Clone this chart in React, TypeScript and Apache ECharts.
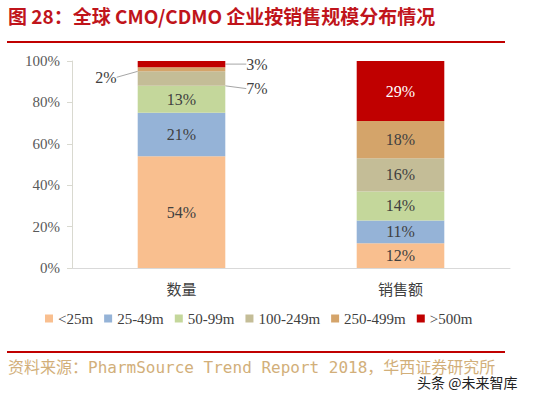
import React, { useEffect, useRef } from "react";
import * as echarts from "echarts";

const categories = ["数量", "销售额"];
const seriesNames = ["<25m", "25-49m", "50-99m", "100-249m", "250-499m", ">500m"];
const under25 = [54, 12];
const m25to49 = [21, 11];
const m50to99 = [13, 14];
const m100to249 = [7, 16];
const m250to499 = [2, 18];
const over500 = [3, 29];
const seriesValues = [under25, m25to49, m50to99, m100to249, m250to499, over500];
const colors = ["#F9BF8F", "#95B3D7", "#C4D79B", "#C4BD97", "#D4A46A", "#C00000"];

const titleText = "图 28：全球 CMO/CDMO 企业按销售规模分布情况";
const sourceText = "资料来源：PharmSource Trend Report 2018，华西证券研究所";
const watermark = "头条 @未来智库";

// outside labels for small slices of the first category: [seriesIndex, side, dy]
const outsideLabels: Record<number, { side: string; dy: number }> = {
  3: { side: "right", dy: 10 },
  4: { side: "left", dy: 8 },
  5: { side: "right", dy: 0 },
};

export default function App() {
  const ref = useRef<HTMLDivElement>(null);
  useEffect(() => {
    document.body.style.margin = "0";
    const chart = echarts.init(ref.current!, null, { renderer: "svg" });
    const serif = "'Liberation Serif', 'Times New Roman', serif";
    const series = seriesNames.map((name, si) => ({
      name,
      type: "bar",
      stack: "total",
      barWidth: "40%",
      itemStyle: { color: colors[si] },
      label: {
        show: true,
        position: "inside",
        formatter: "{c}%",
        fontFamily: serif,
        fontSize: 16,
        color: si === 5 ? "#FFFFFF" : "#404040",
      },
      labelLine: { show: false, lineStyle: { color: "#A6A6A6", width: 1 } },
      labelLayout: (p: any) => {
        if (p.dataIndex === 0 && outsideLabels[si]) return { dy: outsideLabels[si].dy };
        return {};
      },
      data: seriesValues[si].map((v, di) => {
        const o = di === 0 ? outsideLabels[si] : undefined;
        if (!o) return v;
        return {
          value: v,
          label: {
            show: true,
            position: o.side,
            distance: 21,
            color: "#404040",
          },
          labelLine: { show: true, lineStyle: { color: "#A6A6A6", width: 1 } },
        };
      }),
    }));
    chart.setOption({
      animation: false,
      backgroundColor: "#FFFFFF",
      grid: { left: 72, right: 34, top: 61, bottom: 127, containLabel: false },
      xAxis: {
        type: "category",
        data: categories,
        axisLine: { lineStyle: { color: "#D9D9D9" } },
        axisTick: { show: false },
        axisLabel: {
          fontFamily: "'Noto Sans CJK SC', sans-serif",
          fontSize: 15,
          color: "#404040",
          margin: 13,
        },
      },
      yAxis: {
        type: "value",
        min: 0,
        max: 100,
        interval: 20,
        axisLine: { show: true, lineStyle: { color: "#D9D9D0" } },
        axisTick: { show: true, length: 5, lineStyle: { color: "#D9D9D0" } },
        splitLine: { show: false },
        axisLabel: {
          formatter: "{value}%",
          fontFamily: serif,
          fontSize: 15,
          color: "#595959",
          margin: 12,
        },
      },
      legend: {
        data: seriesNames,
        top: 306,
        left: 40,
        itemWidth: 8,
        itemHeight: 8,
        itemGap: 11,
        icon: "rect",
        textStyle: { fontFamily: serif, fontSize: 15, color: "#404040" },
      },
      graphic: [
        {
          type: "text",
          left: 8,
          top: 6,
          style: {
            text: titleText,
            fill: "#C0141B",
            font: "bold 19px 'Noto Sans CJK SC', sans-serif",
          },
        },
        {
          type: "line",
          shape: { x1: 7, y1: 42, x2: 505, y2: 42 },
          style: { stroke: "#C00000", lineWidth: 2 },
        },
        {
          type: "line",
          shape: { x1: 7, y1: 352, x2: 505, y2: 352 },
          style: { stroke: "#C00000", lineWidth: 2 },
        },
        {
          type: "text",
          left: 8,
          top: 359,
          style: {
            text: sourceText,
            fill: "#D2AF7A",
            font: "16px 'DejaVu Sans Mono', 'Noto Sans CJK SC', monospace",
          },
        },
        {
          type: "text",
          left: 416,
          top: 374,
          style: {
            text: watermark,
            fill: "#222222",
            stroke: "#FFFFFF",
            lineWidth: 2,
            font: "14px 'Noto Sans CJK SC', sans-serif",
          },
        },
      ],
      series,
    });
    return () => chart.dispose();
  }, []);
  return <div ref={ref} style={{ width: 544, height: 395 }} />;
}
